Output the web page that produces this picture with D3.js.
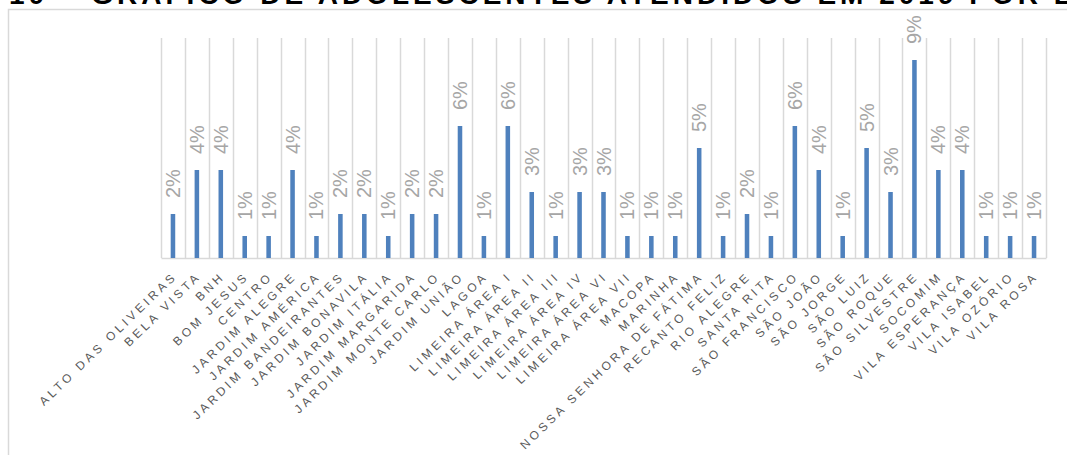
<!DOCTYPE html>
<html>
<head>
<meta charset="utf-8">
<script src="https://cdn.jsdelivr.net/npm/d3@7/dist/d3.min.js"></script>
<style>
  html, body { margin: 0; padding: 0; background: #fff; overflow: hidden; }
  svg { display: block; font-family: "Liberation Sans", Arial, sans-serif; }
</style>
</head>
<body>
<svg id="chart" width="1067" height="455"></svg>
<script>
// Neighbourhoods (bairros) and share of adolescents attended, in percent
const bairros = [
  "ALTO DAS OLIVEIRAS", "BELA VISTA", "BNH", "BOM JESUS", "CENTRO",
  "JARDIM ALEGRE", "JARDIM AMÉRICA", "JARDIM BANDEIRANTES", "JARDIM BONAVILA",
  "JARDIM ITÁLIA", "JARDIM MARGARIDA", "JARDIM MONTE CARLO", "JARDIM UNIÃO",
  "LAGOA", "LIMEIRA ÁREA I", "LIMEIRA ÁREA II", "LIMEIRA ÁREA III",
  "LIMEIRA ÁREA IV", "LIMEIRA ÁREA VI", "LIMEIRA ÁREA VII", "MACOPA",
  "MARINHA", "NOSSA SENHORA DE FÁTIMA", "RECANTO FELIZ", "RIO ALEGRE",
  "SANTA RITA", "SÃO FRANCISCO", "SÃO JOÃO", "SÃO JORGE", "SÃO LUIZ",
  "SÃO ROQUE", "SÃO SILVESTRE", "SOCOMIM", "VILA ESPERANÇA", "VILA ISABEL",
  "VILA OZÓRIO", "VILA ROSA"
];
const percentuais = [
  2, 4, 4, 1, 1, 4, 1, 2, 2, 1, 2, 2, 6, 1, 6, 3, 1, 3, 3, 1, 1, 1, 5, 1, 2,
  1, 6, 4, 1, 5, 3, 9, 4, 4, 1, 1, 1
];
const titulo = "10 – GRÁFICO DE ADOLESCENTES ATENDIDOS EM 2019 POR BAIRRO";

const svg = d3.select("#chart");
const W = 1067, H = 455;

// Chart frame
svg.append("rect")
  .attr("x", 8.5).attr("y", 9.5)
  .attr("width", W + 20).attr("height", H + 20)
  .attr("fill", "#fff")
  .attr("stroke", "#d9d9d9").attr("stroke-width", 1.5);

// Title, set above the frame in the page's heading style
svg.append("text")
  .attr("x", 9).attr("y", 4)
  .attr("font-size", 28).attr("font-weight", "bold")
  .attr("letter-spacing", 4)
  .attr("fill", "#000")
  .text(titulo);

const plot = { left: 161, right: 1046, top: 38, bottom: 258 };

const x = d3.scaleBand()
  .domain(bairros)
  .range([plot.left, plot.right])
  .paddingInner(0).paddingOuter(0);

const y = d3.scaleLinear()
  .domain([0, 10])
  .range([plot.bottom, plot.top]);

// Vertical gridlines at category boundaries
const bounds = bairros.map(b => x(b)).concat([plot.right]);
svg.append("g")
  .selectAll("line")
  .data(bounds)
  .join("line")
  .attr("x1", d => Math.round(d) + 0.5).attr("x2", d => Math.round(d) + 0.5)
  .attr("y1", plot.top).attr("y2", plot.bottom)
  .attr("stroke", "#d9d9d9").attr("stroke-width", 1.5);

// Category axis
const xAxis = svg.append("g")
  .attr("transform", `translate(0,${plot.bottom})`)
  .call(d3.axisBottom(x).tickSize(0).tickPadding(0));
xAxis.select(".domain")
  .attr("stroke", "#d9d9d9").attr("stroke-width", 1.5);
xAxis.selectAll(".tick text")
  .attr("font-family", "'Liberation Sans', Arial, sans-serif")
  .attr("font-size", 12)
  .attr("letter-spacing", 3.4)
  .attr("fill", "#595959")
  .attr("text-anchor", "end")
  .attr("dy", "0.35em")
  .attr("transform", "translate(2,16) rotate(-44)");

// Bars
const barW = x.bandwidth() * 0.19;
svg.append("g")
  .selectAll("rect")
  .data(bairros)
  .join("rect")
  .attr("x", (d, i) => x(d) + x.bandwidth() / 2 - barW / 2)
  .attr("y", (d, i) => y(percentuais[i]))
  .attr("width", barW)
  .attr("height", (d, i) => y(0) - y(percentuais[i]))
  .attr("fill", "#4f81bd");

// Value labels, rotated
svg.append("g")
  .selectAll("text")
  .data(bairros)
  .join("text")
  .attr("transform", (d, i) =>
    `translate(${x(d) + x.bandwidth() / 2},${y(percentuais[i]) - 16}) rotate(-90)`)
  .attr("text-anchor", "start")
  .attr("dy", "0.35em")
  .attr("font-size", 20)
  .attr("fill", "#a6a6a6")
  .text((d, i) => percentuais[i] + "%");
</script>
</body>
</html>
